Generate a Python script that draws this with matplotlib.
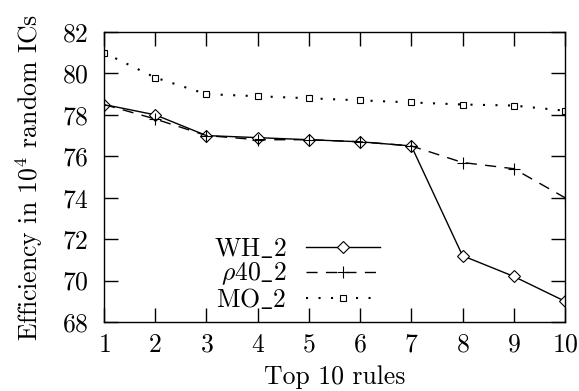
import matplotlib
matplotlib.use("Agg")
import matplotlib.pyplot as plt

plt.rcParams['font.family'] = ['cmr10', 'DejaVu Serif']
plt.rcParams['mathtext.fontset'] = 'cm'
plt.rcParams['axes.formatter.use_mathtext'] = True
plt.rcParams['font.size'] = 18.5

rules = [1, 2, 3, 4, 5, 6, 7, 8, 9, 10]
wh2 = [78.5, 78.0, 77.0, 76.9, 76.8, 76.7, 76.5, 71.2, 70.2, 69.0]
rho40_2 = [78.5, 77.8, 77.0, 76.8, 76.8, 76.7, 76.5, 75.7, 75.4, 74.0]
mo2 = [81.0, 79.8, 79.0, 78.9, 78.8, 78.7, 78.6, 78.5, 78.45, 78.2]
labels = [r'WH$\_$2', r'$\rho$40$\_$2', r'MO$\_$2']
yticks = [68, 70, 72, 74, 76, 78, 80, 82]

fig = plt.figure(figsize=(5.79, 3.91), dpi=100)
ax = fig.add_axes([104/579, 1-322/391, (565-104)/579, (322-32)/391])

ax.plot(rules, wh2, color='black', lw=1.0, marker='D', ms=6.5, mfc='white', mec='black', mew=0.8, label=labels[0])
ax.plot(rules, rho40_2, color='black', lw=1.0, dashes=(8, 6), marker='+', ms=9, mew=0.8, label=labels[1])
ax.plot(rules, mo2, color='black', lw=1.5, ls=(0, (1, 5)), marker='s', ms=5, mfc='white', mec='black', mew=0.8, label=labels[2])

ax.set_xlim(1, 10)
ax.set_ylim(68, 82)
ax.set_xticks(rules)
ax.set_yticks(yticks)
ax.tick_params(direction='in', top=True, right=True, length=10, width=1)
ax.tick_params(axis='x', pad=8)
ax.tick_params(axis='y', pad=11)
for s in ax.spines.values():
    s.set_linewidth(1)

ax.set_xlabel('Top 10 rules', labelpad=6)
ax.set_ylabel(r'Efficiency in $10^4$ random ICs', labelpad=12)

leg = ax.legend(loc='lower left', bbox_to_anchor=(0.205, -0.02), frameon=False,
                markerfirst=False, handlelength=2.9, handletextpad=0.75,
                labelspacing=0.0, borderaxespad=0.2)

fig.savefig('out.png', dpi=100)
